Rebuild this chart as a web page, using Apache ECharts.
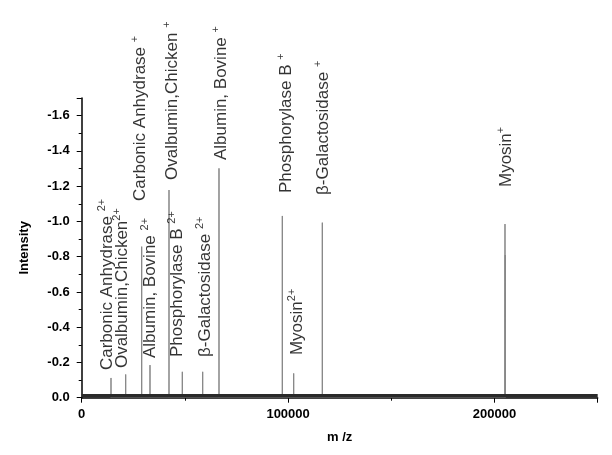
<!DOCTYPE html>
<html>
<head>
<meta charset="utf-8">
<script src="https://cdn.jsdelivr.net/npm/echarts@6/dist/echarts.min.js"></script>
<style>
html,body{margin:0;padding:0;background:#fff;}
#c{width:612px;height:455px;}
</style>
</head>
<body>
<div id="c"></div>
<script>
// Peak positions (m/z) and intensities
const peakMz = [14196, 21318, 29070, 33091, 42297, 48740, 58624, 66521, 97190, 102713, 116570, 205087, 205200];
const peakIntensity = [0.112, 0.132, 0.857, 0.185, 1.178, 0.147, 0.147, 1.301, 1.031, 0.138, 0.993, 0.985, 0.809];

// Baseline noise band
const noiseMz = [0, 250000];
const noiseLevel = [0.011, 0.011];

// Peak annotations: text, charge superscript, anchor (m/z, intensity) of label start
const labelText = ['Carbonic Anhydrase ', 'Ovalbumin,Chicken', 'Carbonic Anhydrase ', 'Albumin, Bovine ',
  'Ovalbumin,Chicken ', 'Phosphorylase B ', '\u03B2-Galactosidase ', 'Albumin, Bovine ',
  'Phosphorylase B ', 'Myosin', '\u03B2-Galactosidase ', 'Myosin'];
const labelCharge = ['2+', '2+', '+', '2+', '+', '2+', '2+', '+', '+', '2+', '+', '+'];
const labelMz = [11773, 19041, 27762, 32607, 43266, 45688, 59254, 67006, 98498, 103828, 116424, 205087];
const labelIntensity = [0.157, 0.168, 1.116, 0.225, 1.235, 0.231, 0.231, 1.348, 1.161, 0.242, 1.150, 1.195];

// Axis ticks
const xTicks = [0, 100000, 200000];
const yTickValues = [0, 0.2, 0.4, 0.6, 0.8, 1.0, 1.2, 1.4, 1.6];

const peakLine = [];
peakMz.forEach((m, i) => {
  peakLine.push([m - 1, 0], [m, peakIntensity[i]], [m + 1, 0]);
});
const noiseLine = noiseMz.map((m, i) => [m, noiseLevel[i]]);
const labelData = labelMz.map((m, i) => ({value: [m, labelIntensity[i]], idx: i}));

const FONT = '"Liberation Sans", Arial, Helvetica, sans-serif';
const chart = echarts.init(document.getElementById('c'), null, {renderer: 'canvas'});
chart.setOption({
  animation: false,
  backgroundColor: '#ffffff',
  grid: {left: 81.7, right: 14.3, top: 98, bottom: 57.3, containLabel: false},
  xAxis: {
    type: 'value', min: 0, max: 250000, interval: 100000,
    name: 'm /z', nameLocation: 'middle', nameGap: 33,
    nameTextStyle: {fontFamily: FONT, fontWeight: 'bold', fontSize: 13, color: '#000', verticalAlign: 'top'},
    axisLine: {show: true, onZero: false, lineStyle: {color: '#000', width: 1.5}},
    axisTick: {show: true, inside: false, length: 5, lineStyle: {color: '#000', width: 1}},
    minorTick: {show: true, splitNumber: 2, length: 3, lineStyle: {color: '#000', width: 1}},
    axisLabel: {fontFamily: FONT, fontWeight: 'bold', fontSize: 13, color: '#000', margin: 10,
      formatter: v => xTicks.indexOf(v) >= 0 ? String(v) : ''},
    splitLine: {show: false}
  },
  yAxis: {
    type: 'value', min: 0, max: 1.7, interval: 0.2,
    name: 'Intensity', nameLocation: 'middle', nameGap: 51, nameRotate: 90,
    nameTextStyle: {fontFamily: FONT, fontWeight: 'bold', fontSize: 13, color: '#000'},
    axisLine: {show: true, onZero: false, lineStyle: {color: '#000', width: 1.5}},
    axisTick: {show: true, inside: false, length: 5, lineStyle: {color: '#000', width: 1}},
    minorTick: {show: true, splitNumber: 2, length: 3, lineStyle: {color: '#000', width: 1}},
    axisLabel: {fontFamily: FONT, fontWeight: 'bold', fontSize: 13, color: '#000', margin: 12,
      formatter: v => {
        const k = yTickValues.findIndex(t => Math.abs(t - v) < 1e-6);
        if (k < 0) return '';
        return v === 0 ? '0.0' : '-' + yTickValues[k].toFixed(1);
      }},
    splitLine: {show: false}
  },
  series: [
    {
      type: 'line', data: noiseLine, symbol: 'none', z: 3,
      lineStyle: {color: '#2a2a2a', width: 3.5}
    },
    {
      type: 'line', data: peakLine, symbol: 'none', z: 2,
      lineStyle: {color: '#858585', width: 1}
    },
    {
      type: 'scatter', data: labelData, symbolSize: 0, z: 4,
      label: {
        show: true, position: 'inside', rotate: 90, align: 'left', verticalAlign: 'middle',
        formatter: p => '{t|' + labelText[p.data.idx] + '}{s|' + labelCharge[p.data.idx] + '}',
        rich: {
          t: {fontFamily: FONT, fontSize: 17, color: '#000', lineHeight: 20, verticalAlign: 'bottom'},
          s: {fontFamily: FONT, fontSize: 11, color: '#000', lineHeight: 20, verticalAlign: 'top'}
        }
      }
    }
  ]
});
</script>
</body>
</html>
